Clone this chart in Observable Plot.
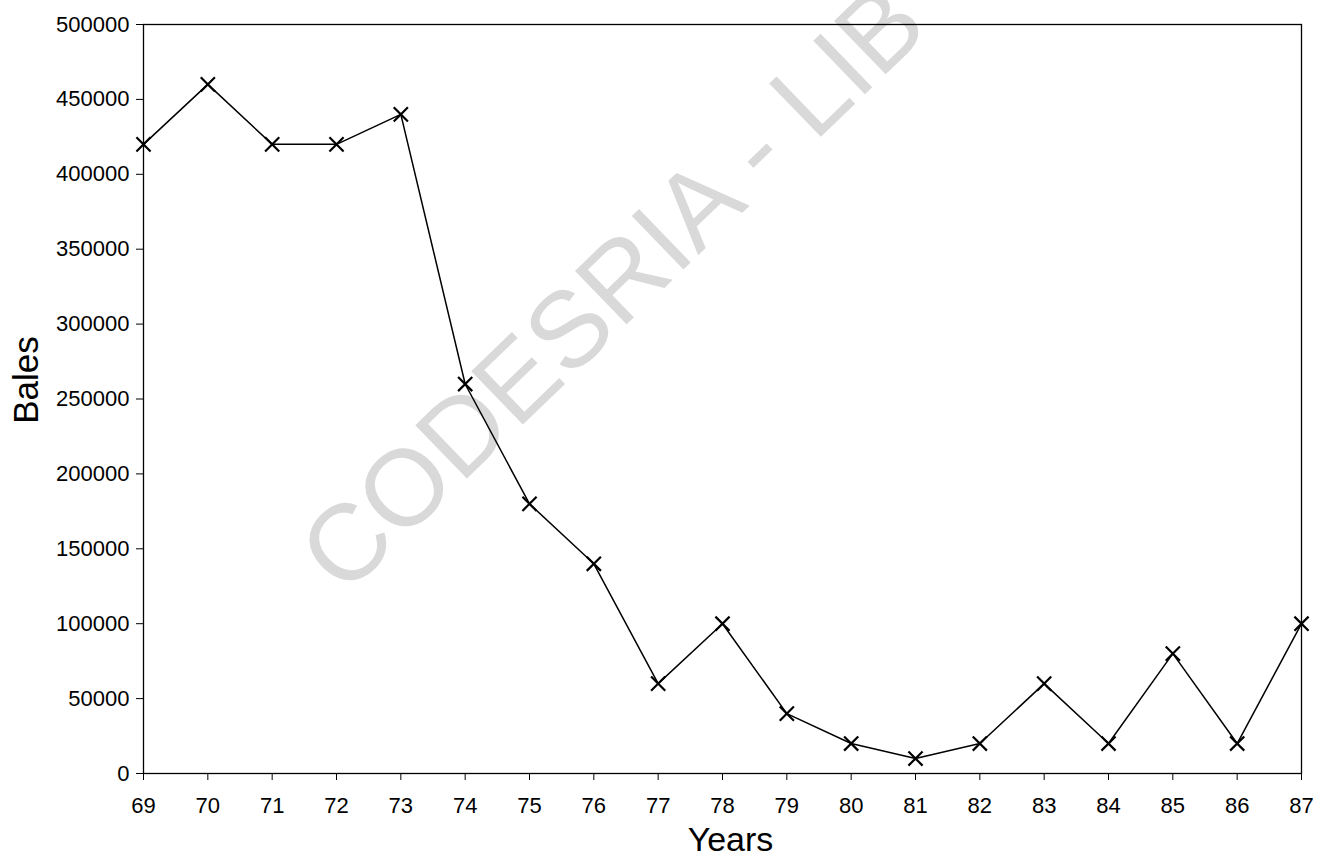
<!DOCTYPE html>
<html>
<head>
<meta charset="utf-8">
<script src="https://cdn.jsdelivr.net/npm/d3@7"></script>
<script src="https://cdn.jsdelivr.net/npm/@observablehq/plot@0.6"></script>
<style>
  html, body { margin: 0; padding: 0; background: #fff; }
  #chart svg { display: block; }
</style>
</head>
<body>
<div id="chart"></div>
<script>
const years = [69, 70, 71, 72, 73, 74, 75, 76, 77, 78, 79, 80, 81, 82, 83, 84, 85, 86, 87];
const bales = [420000, 460000, 420000, 420000, 440000, 260000, 180000, 140000, 60000, 100000, 40000, 20000, 10000, 20000, 60000, 20000, 80000, 20000, 100000];
const yTicks = [0, 50000, 100000, 150000, 200000, 250000, 300000, 350000, 400000, 450000, 500000];
const xLabel = "Years";
const yLabel = "Bales";
const watermark = "CODESRIA - LIB";

const data = years.map((y, i) => ({year: y, bales: bales[i]}));
const font = "'Liberation Sans', Arial, sans-serif";

const chart = Plot.plot({
  width: 1326,
  height: 858,
  marginLeft: 143,
  marginRight: 25,
  marginTop: 24,
  marginBottom: 85,
  style: {fontFamily: font, fontSize: "22px", color: "#000", background: "#fff"},
  x: {domain: [69, 87], label: null},
  y: {domain: [0, 500000], label: null},
  marks: [
    Plot.text([watermark], {
      frameAnchor: "middle", dx: -109, dy: -110, rotate: -44,
      fontSize: 108, fill: "#d9d9d9", fontFamily: font
    }),
    Plot.frame({stroke: "#000", strokeWidth: 1.3}),
    Plot.axisX({ticks: years, tickFormat: d => String(d), tickSize: 7, tickPadding: 17, fontSize: 22, label: null}),
    Plot.axisY({ticks: yTicks, tickFormat: d => String(d), tickSize: 7, tickPadding: 7, fontSize: 22, label: null}),
    Plot.line(data, {x: "year", y: "bales", stroke: "#000", strokeWidth: 1.5}),
    Plot.dot(data, {x: "year", y: "bales", symbol: "times", r: 6.5, stroke: "#000", strokeWidth: 2.2}),
    Plot.text([xLabel], {frameAnchor: "bottom", lineAnchor: "middle", dx: 8, dy: 67, fontSize: 34, fill: "#000"}),
    Plot.text([yLabel], {frameAnchor: "left", textAnchor: "middle", dx: -117, dy: -19, rotate: -90, fontSize: 35, fill: "#000"})
  ]
});
document.getElementById("chart").appendChild(chart);
</script>
</body>
</html>
